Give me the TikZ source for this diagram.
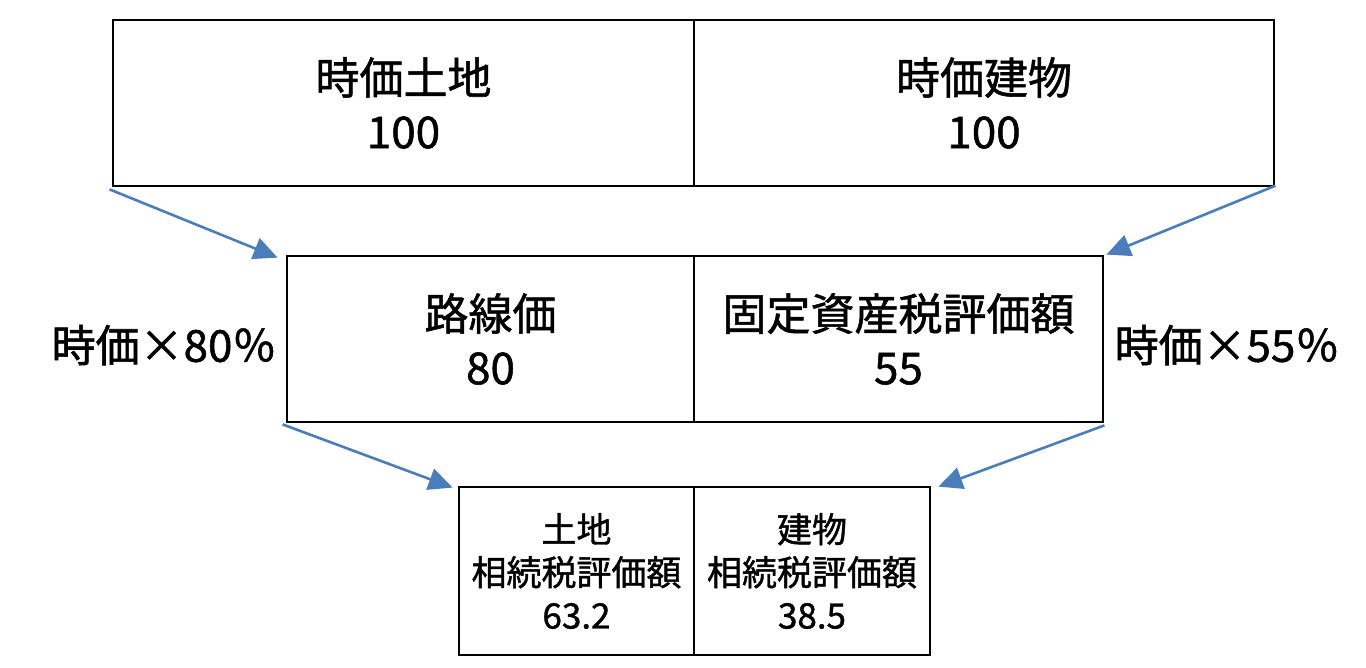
\documentclass[tikz,border=0pt]{standalone}
\usepackage{fontspec}
\setmainfont{Noto Sans CJK JP}[FakeBold=1.2]
\usetikzlibrary{arrows.meta,calc}
\definecolor{arrowblue}{HTML}{4A7EBB}
\begin{document}
\begin{tikzpicture}[x=1pt,y=-1pt,
  bigbox/.style={draw=black,line width=2.8pt,rectangle,align=center,inner sep=0pt,minimum height=166pt,font=\fontsize{44}{54}\selectfont},
  smallbox/.style={draw=black,line width=2.8pt,rectangle,align=center,inner sep=0pt,minimum height=168pt,font=\fontsize{35}{43}\selectfont},
  flow/.style={draw=arrowblue,line width=2.6pt,-{Triangle[length=24pt,width=22pt]}},
  note/.style={font=\fontsize{44}{54}\selectfont,inner sep=0pt}]
\useasboundingbox (0,0) rectangle (1366,667);
\node[bigbox,minimum width=581pt] (tl) at (403.5,103) {時価土地\\100};
\node[bigbox,minimum width=580pt] (tr) at (984,103) {時価建物\\100};
\node[bigbox,minimum width=407pt] (ml) at (490.5,339) {路線価\\80};
\node[bigbox,minimum width=409pt] (mr) at (898.5,339) {固定資産税評価額\\55};
\node[smallbox,minimum width=235pt] (bl) at (576.5,571) {土地\\相続税評価額\\63.2};
\node[smallbox,minimum width=236pt] (br) at (812,571) {建物\\相続税評価額\\38.5};
\node[note] (n1) at (164,345) {時価×80％};
\node[note] (n2) at (1227,345) {時価×55％};
\coordinate (t1) at ($(ml.north west)+(-8,3)$);
\coordinate (t2) at ($(mr.north east)+(2,0)$);
\coordinate (t3) at ($(bl.north west)+(-5,2)$);
\coordinate (t4) at ($(br.north east)+(7,1)$);
\draw[flow] ($(tl.south west)+(-2,2)$) -- (t1);
\draw[flow] ($(tr.north east)!0.99!(tr.south east)$) -- (t2);
\draw[flow] ($(ml.south west)+(-3,1)$) -- (t3);
\draw[flow] ($(mr.south east)+(0,2)$) -- (t4);
\end{tikzpicture}
\end{document}
